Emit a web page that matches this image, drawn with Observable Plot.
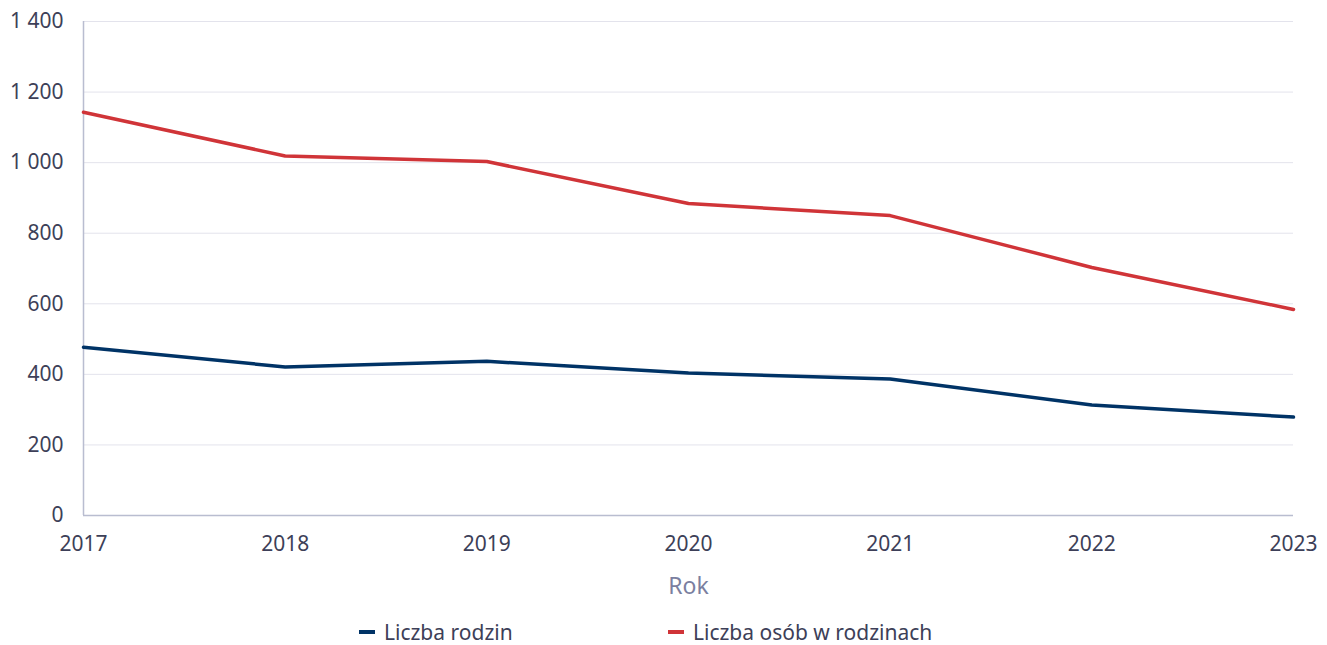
<!DOCTYPE html>
<html>
<head>
<meta charset="utf-8">
<script src="https://cdn.jsdelivr.net/npm/d3@7"></script>
<script src="https://cdn.jsdelivr.net/npm/@observablehq/plot@0.6"></script>
<style>
  html, body { margin: 0; padding: 0; background: #fff; }
  body { font-family: "Noto Sans", "Open Sans", sans-serif; width: 1327px; height: 645px; position: relative; overflow: hidden; }
  #chart { position: absolute; left: 0; top: 0; }
  .leg { position: absolute; top: 618px; display: flex; align-items: center; font-size: 21px; color: #3d3f58; white-space: nowrap; }
  .sw { width: 16px; height: 4px; margin-right: 9px; }
</style>
</head>
<body>
<div id="chart"></div>
<div class="leg" style="left:359px"><span class="sw" style="background:#003366"></span>Liczba rodzin</div>
<div class="leg" style="left:668px"><span class="sw" style="background:#d03438"></span>Liczba osób w rodzinach</div>
<script>
const years = [2017, 2018, 2019, 2020, 2021, 2022, 2023];
const liczbaRodzin = [477, 421, 437, 404, 387, 313, 279];
const liczbaOsob = [1143, 1019, 1003, 884, 850, 703, 584];
const seriesNames = ["Liczba rodzin", "Liczba osób w rodzinach"];
const seriesColors = ["#003366", "#d03438"];
const yTicks = [0, 200, 400, 600, 800, 1000, 1200, 1400];

const data = [];
years.forEach((y, i) => {
  data.push({year: y, value: liczbaRodzin[i], series: seriesNames[0]});
  data.push({year: y, value: liczbaOsob[i], series: seriesNames[1]});
});

const fmt = d => d3.format(",")(d).replace(/,/g, " ");
const textColor = "#3d3f58";

const chart = Plot.plot({
  width: 1327,
  height: 600,
  marginTop: 21,
  marginBottom: 85,
  marginLeft: 83,
  marginRight: 34,
  style: {fontFamily: "'Noto Sans', 'Open Sans', sans-serif", fontSize: "21px", color: textColor, background: "transparent"},
  x: {domain: [2017, 2023]},
  y: {domain: [0, 1400]},
  color: {domain: seriesNames, range: seriesColors},
  marks: [
    Plot.gridY(yTicks.filter(d => d > 0), {stroke: "#e3e3ec", strokeOpacity: 1, strokeWidth: 1}),
    Plot.ruleY([0], {stroke: "#b9bdd0", strokeWidth: 1.5}),
    Plot.ruleX([2017], {stroke: "#b9bdd0", strokeWidth: 1.5}),
    Plot.axisY({ticks: yTicks, tickFormat: fmt, tickSize: 0, tickPadding: 20, label: null, fontSize: 21, fill: textColor}),
    Plot.axisX({ticks: years, tickFormat: d => String(d), tickSize: 0, tickPadding: 21, fontSize: 21, fill: textColor,
      label: "Rok", labelAnchor: "center", labelArrow: "none", labelOffset: 78}),
    Plot.lineY(data, {x: "year", y: "value", z: "series", stroke: "series", strokeWidth: 3.5, strokeLinejoin: "miter"})
  ]
});
document.getElementById("chart").appendChild(chart);
chart.querySelectorAll("text").forEach(t => {
  if (t.textContent === "Rok") { t.setAttribute("fill", "#7b7fa0"); t.style.fontSize = "23px"; }
});
</script>
</body>
</html>
